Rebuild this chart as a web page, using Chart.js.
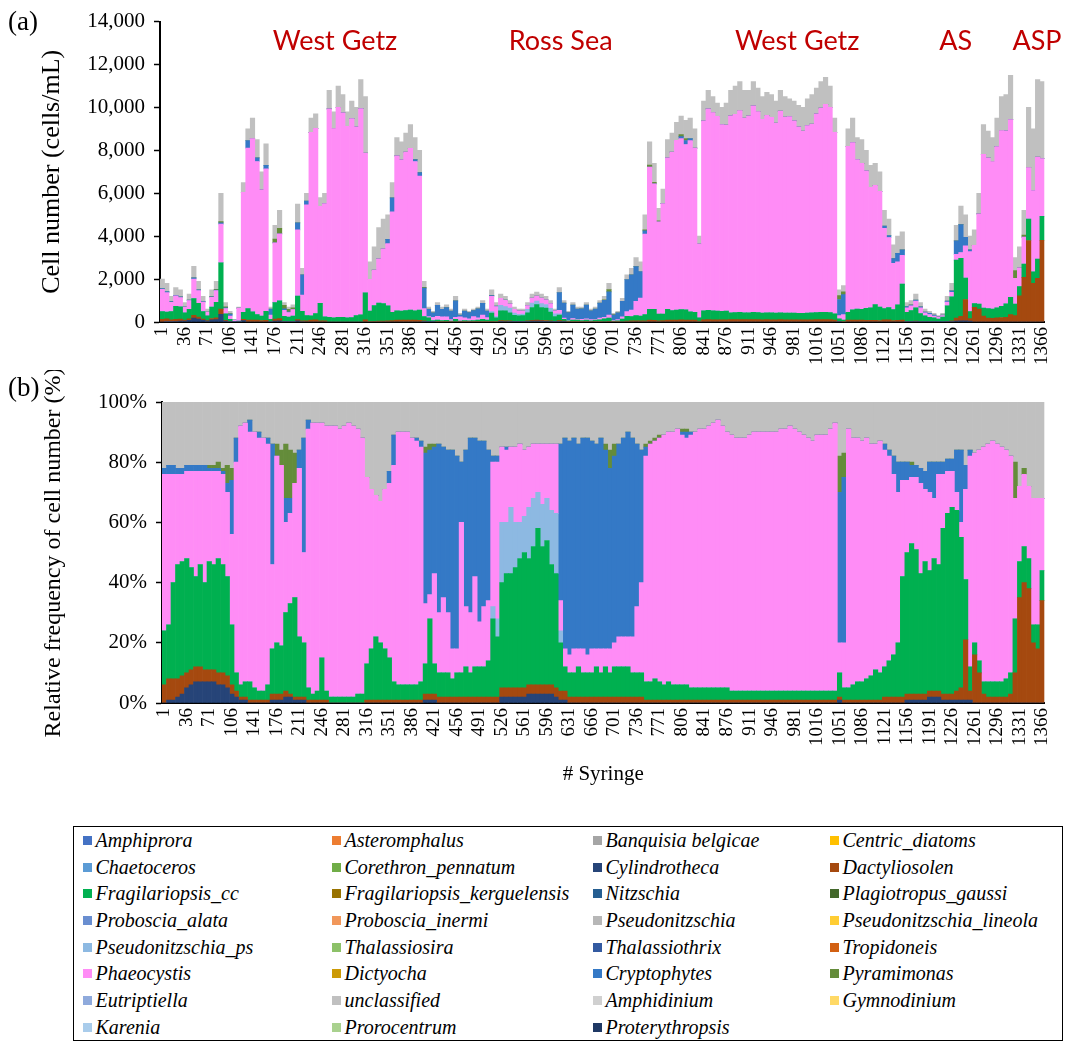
<!DOCTYPE html>
<html>
<head>
<meta charset="utf-8">
<script src="https://cdn.jsdelivr.net/npm/chart.js@4.4.1/dist/chart.umd.min.js"></script>
<style>
  body { margin: 0; background: #fff; }
  #wrap { position: relative; width: 1070px; height: 1044px; background: #fff; overflow: hidden; }
  canvas { position: absolute; left: 0; }
  .panel { position: absolute; left: 8px; font-family: "Liberation Serif", "Times New Roman", serif; font-size: 27px; line-height: 27px; color: #000; }
  #legend {
    position: absolute; left: 73px; top: 826px; width: 990px; height: 215px;
    border: 1.5px solid #000; box-sizing: border-box; padding-left: 8.5px;
    display: grid; grid-template-columns: 249px 261px 237px auto; grid-auto-rows: 26.7px;
    font-family: "Liberation Serif", "Times New Roman", serif;
    font-style: italic; font-size: 20px; color: #000;
  }
  #legend .item { display: flex; align-items: center; white-space: nowrap; }
  #legend .sw { width: 9px; height: 9px; margin-right: 4px; flex: none; }
</style>
</head>
<body>
<div id="wrap">
  <canvas id="chartA" width="1070" height="380" style="top:0"></canvas>
  <canvas id="chartB" width="1070" height="430" style="top:370px"></canvas>
  <div class="panel" style="top:8px">(a)</div>
  <div class="panel" style="top:374px">(b)</div>
  <div id="legend"></div>
</div>
<script>
// syringe numbers, one bar every 7 syringes
const syringes = Array.from({ length: 196 }, (_, i) => 1 + i * 7);
const tickLabels = [1, 36, 71, 106, 141, 176, 211, 246, 281, 316, 351, 386, 421, 456, 491, 526, 561, 596, 631, 666,
  701, 736, 771, 806, 841, 876, 911, 946, 981, 1016, 1051, 1086, 1121, 1156, 1191, 1226, 1261, 1296, 1331, 1366];

// (a) total cell number (cells/mL)
const totalCells = [
  2000,1800,1200,1600,1500, 900,1300,2600,1900,1200, 600,1500,1900,6000,900, 500,100,700,6500,9000, 9500,8500,7000,8300,700,
  4500,5200,900,700,800, 5500,2500,6000,9500,9700, 5800,6000,10800,9800,11000, 10600,9800,10300,10000,11300, 10500,2800,3500,4400,4800,
  5000,6500,8600,8400,8800, 9200,8600,8000,1900,700, 500,900,700,800,600, 1200,400,600,500,600, 700,1000,600,1500,900,
  1300,1200,1000,700,600, 600,900,1300,1400,1300, 1200,1000,600,1600,1000, 500,900,700,700,900, 600,700,1000,1200,1800,
  400,500,1100,2200,2500, 3000,2800,5000,8400,7400, 5300,6200,8500,8800,9300, 9600,9400,9500,9000,4000, 10300,10800,10500,10200,10000,
  10200,10800,11000,11200,10800, 10800,11200,10900,10500,10700, 10600,10300,10800,10500,10400, 10300,10100,10000,10400,10600, 10900,11200,11400,11000,9500,
  1500,1700,9000,9500,8600, 8500,8000,7300,7400,7000, 5200,4800,3600,4000,4200, 900,1000,1300,900,600, 500,400,300,400,1200,
  1800,4500,5400,5000,4000, 4300,6000,9200,8900,8600, 9500,10500,10600,11500,3000, 3500,5200,10000,9000,11300, 11200
];

// (b) relative frequency (%) per taxon
const cylindrotheca = [
  0,1,1,2,3, 5,6,7,7,7, 7,7,6,6,5, 3,2,1,1,0, 0,0,0,0,1,
  1,1,2,2,1, 1,1,0,0,0, 0,0,0,0,0, 0,0,0,0,0, 0,0,0,0,0,
  0,0,0,0,0, 0,0,0,1,1, 1,0,0,0,0, 0,0,0,0,0, 0,0,0,0,0,
  2,2,2,2,2, 2,3,3,3,3, 3,3,2,1,1, 0,0,0,0,0, 0,0,0,0,0,
  0,0,0,0,0, 0,0,0,0,0, 0,0,0,0,0, 0,0,0,0,0, 0,0,0,0,0,
  0,0,0,0,0, 0,0,0,0,0, 0,0,0,0,0, 0,0,0,0,0, 0,0,0,0,0,
  1,0,0,0,0, 0,0,0,0,0, 0,0,0,0,0, 1,1,1,1,1, 2,2,2,1,1,
  1,1,1,1,1, 0,0,0,0,0, 0,0,0,0,0, 0,0,0,0,0, 0
];
const dactyliosolen = [
  6,7,7,6,6, 5,5,5,5,4, 4,4,4,4,4, 3,2,1,1,1, 1,1,1,1,2,
  2,2,2,1,1, 1,1,1,1,1, 1,1,0,0,0, 0,0,0,0,0, 1,1,1,1,1,
  1,1,1,1,1, 1,1,1,2,2, 2,2,2,2,2, 2,2,2,2,2, 2,2,2,2,2,
  3,3,3,3,3, 3,3,3,3,3, 3,3,3,3,3, 2,2,2,2,2, 2,2,2,2,2,
  2,2,2,2,2, 2,2,1,1,1, 1,1,1,1,1, 1,1,1,1,1, 1,1,1,1,1,
  1,1,1,1,1, 1,1,1,1,1, 1,1,1,1,1, 1,1,1,1,1, 1,1,1,1,1,
  1,1,1,1,1, 1,1,1,1,1, 2,2,2,2,2, 2,2,2,2,2, 2,2,2,2,2,
  2,3,4,20,3, 16,10,3,2,2, 2,2,2,3,10, 35,40,38,20,18, 34
];
const fragilariopsisCc = [
  18,18,32,38,38, 38,34,30,34,29, 36,35,38,36,33, 20,6,4,5,6, 4,3,3,5,15,
  17,16,26,30,33, 20,18,4,2,3, 14,3,2,2,2, 2,2,2,3,3, 12,17,21,19,17,
  14,6,5,5,5, 5,5,6,10,25, 10,8,8,8,6, 8,8,10,8,10, 10,10,12,26,20,
  35,38,38,40,43, 45,42,46,52,46, 48,40,38,16,8, 8,8,10,8,8, 8,10,8,10,8,
  10,10,10,10,8, 8,8,6,6,7, 6,5,6,5,5, 5,5,4,4,4, 4,4,4,4,4,
  4,3,3,3,3, 3,3,3,3,3, 3,3,3,3,3, 3,3,3,3,3, 3,3,3,3,3,
  8,4,4,5,6, 6,7,8,10,9, 10,12,14,18,40, 47,50,48,40,44, 40,44,42,55,60,
  62,60,50,20,8, 4,4,4,5,5, 5,5,6,7,18, 12,12,10,6,8, 10
];
const pseudonitzschiaPs = [
  0,0,0,0,0, 0,0,0,0,0, 0,0,0,0,0, 0,0,0,0,0, 0,0,0,0,0,
  0,0,0,0,0, 0,0,0,0,0, 0,0,0,0,0, 0,0,0,0,0, 0,0,0,0,0,
  0,0,0,0,0, 0,0,0,0,0, 0,0,0,0,0, 0,0,0,0,0, 0,0,0,4,6,
  20,17,22,15,12, 12,17,16,12,14, 14,18,20,4,0, 0,0,0,0,0, 0,0,0,0,0,
  0,0,0,0,0, 0,0,0,0,0, 0,0,0,0,0, 0,0,0,0,0, 0,0,0,0,0,
  0,0,0,0,0, 0,0,0,0,0, 0,0,0,0,0, 0,0,0,0,0, 0,0,0,0,0,
  0,0,0,0,0, 0,0,0,0,0, 0,0,0,0,0, 0,0,0,0,0, 0,0,0,0,0,
  0,0,0,0,0, 0,0,0,0,0, 0,0,0,0,0, 0,0,0,0,0, 0
];
const phaeocystis = [
  52,50,36,30,29, 29,32,35,31,37, 30,31,29,30,28, 30,70,86,86,83, 85,84,84,80,28,
  62,60,30,30,38, 56,30,86,90,89, 78,88,90,90,89, 90,91,90,88,85, 62,53,47,47,53,
  58,72,84,84,84, 82,81,78,20,8, 30,20,25,20,10, 8,50,20,20,30, 15,20,20,48,52,
  25,24,20,25,26, 22,20,18,16,20, 18,22,23,10,6, 6,8,6,8,6, 8,6,8,6,8,
  8,10,10,10,12, 22,30,75,79,79, 81,83,83,84,85, 83,82,84,85,86, 86,87,88,89,87,
  85,85,84,84,84, 85,86,86,86,86, 86,86,87,87,88, 87,86,85,84,83, 85,85,85,87,89,
  10,15,86,82,81, 80,80,77,75,77, 72,68,60,50,32, 24,22,24,30,24, 26,20,30,18,14,
  12,6,5,30,70, 63,70,78,79,80, 79,78,76,72,40, 25,24,24,42,42, 24
];
const cryptophytes = [
  2,3,3,2,2, 2,2,2,2,2, 1,1,1,1,3, 18,8,0,0,4, 0,2,0,2,40,
  0,0,8,5,0, 6,38,3,0,0, 0,0,0,0,0, 0,0,0,0,0, 0,0,0,0,0,
  4,10,0,0,0, 0,1,2,50,48, 42,56,50,54,66, 64,20,52,58,46, 60,55,50,2,2,
  0,1,0,0,0, 0,0,0,0,0, 0,0,0,52,70, 71,70,68,70,72, 69,68,70,66,60,
  62,64,66,68,66, 54,44,3,0,0, 0,0,0,0,0, 1,2,1,0,0, 0,0,0,0,0,
  0,0,0,0,0, 0,0,0,0,0, 0,0,0,0,0, 0,0,0,0,0, 0,0,0,0,0,
  50,55,0,0,0, 0,0,0,0,0, 2,2,6,10,6, 6,4,4,5,6, 10,12,4,4,4,
  4,14,24,8,2, 0,0,0,0,0, 0,0,0,0,0, 0,0,0,0,0, 0
];
const pyramimonas = [
  0,0,0,0,0, 0,0,0,0,0, 1,1,2,1,6, 4,0,0,0,0, 0,0,0,0,0,
  4,5,18,16,10, 0,0,0,0,0, 0,0,0,0,0, 0,0,0,0,0, 0,0,0,0,0,
  0,0,0,0,0, 0,0,0,2,2, 1,0,0,0,0, 0,0,0,0,0, 0,0,0,0,0,
  0,0,0,0,0, 0,0,0,0,0, 0,0,0,0,0, 0,0,0,0,0, 0,0,0,2,6,
  4,0,0,0,0, 0,0,1,1,1, 1,0,0,0,0, 1,1,0,0,0, 0,0,0,0,0,
  0,0,0,0,0, 0,0,0,0,0, 0,0,0,0,0, 0,0,0,0,0, 0,0,0,0,0,
  12,8,0,0,0, 0,0,0,0,0, 0,0,0,0,0, 0,1,0,0,0, 0,0,0,0,0,
  0,0,0,0,0, 0,0,0,0,0, 0,0,0,0,12, 0,2,0,0,0, 0
];

const species = [
  ['Amphiprora', '#4472C4'], ['Asteromphalus', '#ED7D31'], ['Banquisia belgicae', '#A5A5A5'], ['Centric_diatoms', '#FFC000'],
  ['Chaetoceros', '#5B9BD5'], ['Corethron_pennatum', '#70AD47'], ['Cylindrotheca', '#264478'], ['Dactyliosolen', '#A5490F'],
  ['Fragilariopsis_cc', '#00B050'], ['Fragilariopsis_kerguelensis', '#997300'], ['Nitzschia', '#255E91'], ['Plagiotropus_gaussi', '#43682B'],
  ['Proboscia_alata', '#698ED0'], ['Proboscia_inermi', '#F1975A'], ['Pseudonitzschia', '#B7B7B7'], ['Pseudonitzschia_lineola', '#FFCD33'],
  ['Pseudonitzschia_ps', '#8DB9E2'], ['Thalassiosira', '#8CC168'], ['Thalassiothrix', '#335AA1'], ['Tropidoneis', '#D26012'],
  ['Phaeocystis', '#FF8CF6'], ['Dictyocha', '#CC9A06'], ['Cryptophytes', '#3479C6'], ['Pyramimonas', '#648C3A'],
  ['Eutriptiella', '#8FAADC'], ['unclassified', '#C0C0C0'], ['Amphidinium', '#D0D0D0'], ['Gymnodinium', '#FFD966'],
  ['Karenia', '#A9CCEB'], ['Prorocentrum', '#A9D18E'], ['Proterythropsis', '#1F3864']
];
const colorOf = Object.fromEntries(species);

const pctSeries = [
  ['Cylindrotheca', cylindrotheca], ['Dactyliosolen', dactyliosolen], ['Fragilariopsis_cc', fragilariopsisCc],
  ['Pseudonitzschia_ps', pseudonitzschiaPs], ['Phaeocystis', phaeocystis], ['Cryptophytes', cryptophytes], ['Pyramimonas', pyramimonas]
];
[totalCells, ...pctSeries.map(s => s[1])].forEach((arr, k) => {
  if (arr.length !== syringes.length) throw new Error('length mismatch in array ' + k + ': ' + arr.length);
});
// what is left up to 100% is unclassified
const unclassified = syringes.map((_, i) => 100 - pctSeries.reduce((a, s) => a + s[1][i], 0));
const allPct = [...pctSeries, ['unclassified', unclassified]];

function makeSets(absolute) {
  return allPct.map(([name, pct]) => ({
    label: name,
    data: pct.map((p, i) => absolute ? totalCells[i] * p / 100 : p),
    backgroundColor: colorOf[name],
    borderWidth: 0,
    barPercentage: 1,
    categoryPercentage: 1,
  }));
}

const serif = '"Liberation Serif", "Times New Roman", serif';

function xScale(height, withTitle) {
  return {
    stacked: true,
    grid: { display: false, drawTicks: false },
    border: { display: true, color: '#000', width: 2 },
    ticks: {
      autoSkip: false, minRotation: 90, maxRotation: 90, padding: 5,
      color: '#000', font: { family: serif, size: 19 },
      callback: (v, i) => tickLabels.includes(syringes[i]) ? String(syringes[i]) : '',
    },
    title: { display: withTitle, text: '# Syringe', color: '#000', font: { family: serif, size: 21 } },
    afterFit(s) { s.height = height; },
  };
}
function yScale(max, step, fmt, title, titleSize) {
  return {
    stacked: true, min: 0, max: max,
    grid: { drawOnChartArea: false, drawTicks: true, tickLength: 6, tickColor: '#000', tickWidth: 1.5 },
    border: { display: true, color: '#000', width: 2 },
    ticks: { stepSize: step, padding: 9, color: '#000', font: { family: serif, size: 21 }, callback: fmt },
    title: { display: true, text: title, color: '#000', font: { family: serif, size: titleSize } },
    afterFit(s) { s.width = 127; },
  };
}

// red region names over panel (a), placed at syringe numbers
const regions = [['West Getz', 269], ['Ross Sea', 619], ['West Getz', 986], ['AS', 1232], ['ASP', 1358]];
const regionLabels = {
  id: 'regionLabels',
  afterDraw(chart) {
    const { ctx, chartArea } = chart;
    const perSyr = (chartArea.right - chartArea.left) / (syringes.length * 7);
    ctx.save();
    ctx.fillStyle = '#C00000';
    ctx.font = '27px Lato, "Liberation Sans", sans-serif';
    ctx.textAlign = 'center';
    ctx.textBaseline = 'alphabetic';
    regions.forEach(([txt, s]) => ctx.fillText(txt, chartArea.left + (s + 2.5) * perSyr, 50));
    ctx.restore();
  }
};

new Chart(document.getElementById('chartA'), {
  type: 'bar',
  plugins: [regionLabels],
  data: { labels: syringes, datasets: makeSets(true) },
  options: {
    responsive: false,
    animation: false,
    layout: { padding: { top: 20, left: 33, right: 22, bottom: 0 } },
    plugins: { legend: { display: false }, tooltip: { enabled: false } },
    scales: {
      x: xScale(58, false),
      y: yScale(14000, 2000, v => v.toLocaleString('en-US'), 'Cell number (cells/mL)', 26),
    },
  },
});

new Chart(document.getElementById('chartB'), {
  type: 'bar',
  data: { labels: syringes, datasets: makeSets(false) },
  options: {
    responsive: false,
    animation: false,
    layout: { padding: { top: 32, left: 35, right: 13, bottom: 9 } },
    plugins: { legend: { display: false }, tooltip: { enabled: false } },
    scales: {
      x: xScale(88, true),
      y: yScale(100, 20, v => v + '%', 'Relative frequency of cell number (%)', 24),
    },
  },
});

// legend box, 4 columns like the figure
const legendEl = document.getElementById('legend');
species.forEach(([name, color]) => {
  const item = document.createElement('div');
  item.className = 'item';
  item.innerHTML = '<span class="sw" style="background:' + color + '"></span><span>' + name + '</span>';
  legendEl.appendChild(item);
});
</script>
</body>
</html>
